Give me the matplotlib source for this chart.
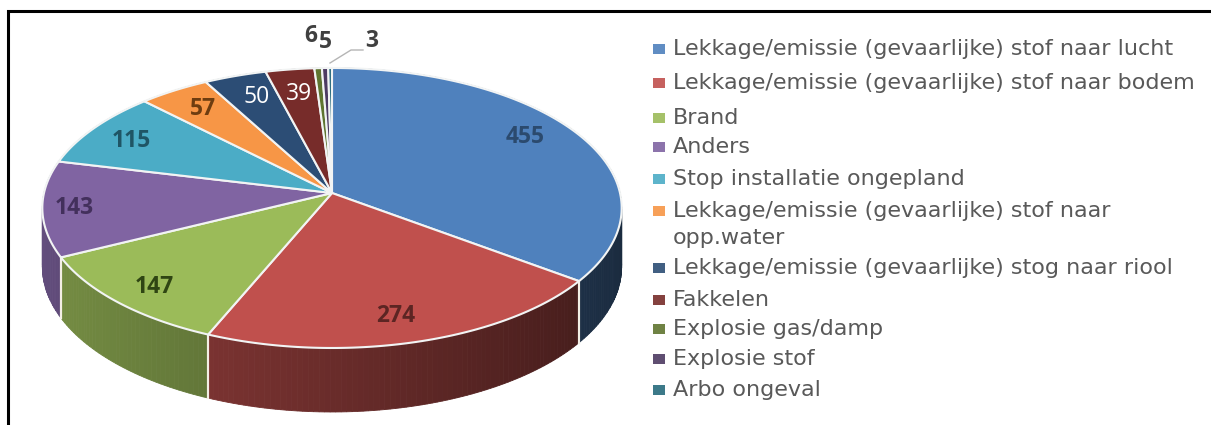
import numpy as np
import matplotlib
matplotlib.use("Agg")
import matplotlib.pyplot as plt
from matplotlib.patches import Rectangle

# Data
categories = [
    "Lekkage/emissie (gevaarlijke) stof naar lucht",
    "Lekkage/emissie (gevaarlijke) stof naar bodem",
    "Brand",
    "Anders",
    "Stop installatie ongepland",
    "Lekkage/emissie (gevaarlijke) stof naar\nopp.water",
    "Lekkage/emissie (gevaarlijke) stog naar riool",
    "Fakkelen",
    "Explosie gas/damp",
    "Explosie stof",
    "Arbo ongeval",
]
values = [455, 274, 147, 143, 115, 57, 50, 39, 6, 5, 3]

colors = ["#4f81bd", "#c0504d", "#9bbb59", "#8064a2", "#4bacc6", "#f79646",
          "#2c4d75", "#772c2a", "#5f7530", "#4d3b62", "#276a7c"]

# label placement in pixels, (x, y, colour)
label_pos = [(525, 137, "#2b4a6e"), (396, 316, "#5c2523"), (154, 287, "#2f4513"),
             (74, 208, "#43305c"), (131, 141, "#1f5565"), (203, 109, "#6e3d10"),
             (257, 97, "white"), (299, 94, "white"), (311, 36, "#404040"),
             (325, 42, "#404040"), (372, 41, "#404040")]
legend_y = [49, 83, 118, 147, 179, 211, 268, 300, 329, 359, 390]

# pie projection (unit circle -> picture), a bit of perspective
CX, CY = 332, 193
R, A, C = 288, 138.4, 0.107


def project(theta, depth=False):
    u, v = np.sin(theta), np.cos(theta)
    x = CX + R * u / (1 + C * v)
    y = CY - A * v / (1 + C * v)
    if depth:
        y = y + 58 - 6 * v
    return x, y


fig = plt.figure(figsize=(12.11, 4.25), dpi=100)
ax = fig.add_axes([0, 0, 1, 1])
ax.set_xlim(0, 1211)
ax.set_ylim(425, 0)
ax.axis("off")

# only the top and left of the frame are in the picture
ax.plot([8, 8, 1211], [425, 11, 11], color="black", lw=2.2, solid_joinstyle="miter")

edges = np.radians(np.cumsum([0] + values) / sum(values) * 360)

# side walls, cut in strips for the shading
for i in np.argsort(-np.cos((edges[:-1] + edges[1:]) / 2)):
    a0, a1 = edges[i], edges[i + 1]
    base = np.array(matplotlib.colors.to_rgb(colors[i]))
    cuts = np.linspace(a0, a1, max(2, int((a1 - a0) * 60)))
    for t0, t1 in zip(cuts[:-1], cuts[1:]):
        t = np.linspace(t0, t1, 3)
        xt, yt = project(t)
        xb, yb = project(t, depth=True)
        shade = 0.55 - 0.22 * np.sin((t0 + t1) / 2)
        ax.fill(np.r_[xt, xb[::-1]], np.r_[yt, yb[::-1]], color=base * shade, lw=0.6, zorder=2)
    # white seam between the wedges
    for t in (a0, a1):
        if np.cos(t) < 0:
            xt, yt = project(t)
            xb, yb = project(t, depth=True)
            ax.plot([xt, xb], [yt, yb], color="#f4efe6", lw=1.5, zorder=3)

# top face
for i, col in enumerate(colors):
    t = np.linspace(edges[i], edges[i + 1], 120)
    x, y = project(t)
    ax.fill(np.r_[CX, x], np.r_[CY, y], facecolor=col, edgecolor="#f2f4f4", lw=1.5,
            joinstyle="round", zorder=4)

# value labels
for val, (x, y, c) in zip(values, label_pos):
    white = c == "white"
    ax.text(x, y, str(val), ha="center", va="center", color=c, zorder=6,
            fontsize=16.5, fontweight="normal" if white else "bold", family="Open Sans")
ax.plot([330, 351, 363], [63, 50, 50], color="#b5b5b5", lw=1, zorder=5)

# legend
for name, col, y in zip(categories, colors, legend_y):
    ax.add_patch(Rectangle((653, y - 5), 12, 10, fc=col, ec="none", alpha=0.9, zorder=5))
    for k, line in enumerate(name.split("\n")):
        ax.text(673, y + k * 27, line, ha="left", va="center", color="#595959",
                fontsize=16, family="DejaVu Sans")

fig.savefig("out.png", dpi=100)
